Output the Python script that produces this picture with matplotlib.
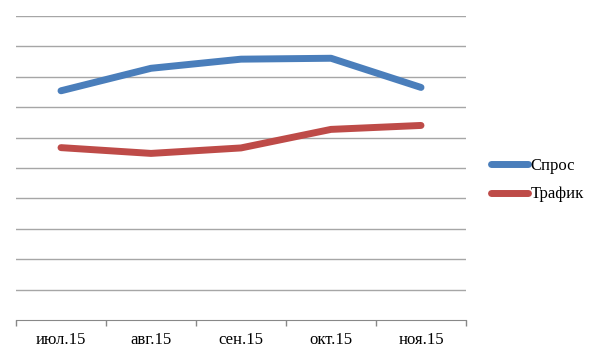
import matplotlib.pyplot as plt
import numpy as np

# Данные (в делениях сетки)
months = ['июл.15', 'авг.15', 'сен.15', 'окт.15', 'ноя.15']
spros = [7.54, 8.28, 8.58, 8.61, 7.65]
trafik = [5.67, 5.48, 5.66, 6.27, 6.40]

plt.rcParams['font.family'] = ['Liberation Serif', 'DejaVu Serif']

fig = plt.figure(figsize=(6, 3.6), dpi=100)
ax = fig.add_axes([16/600, 1 - 320/360, 450/600, 304/360])

x = np.arange(len(months))
ax.plot(x, spros, color='#4a7ebb', lw=5, solid_capstyle='round', solid_joinstyle='round', label='Спрос')
ax.plot(x, trafik, color='#be4b48', lw=5, solid_capstyle='round', solid_joinstyle='round', label='Трафик')

ax.set_xlim(-0.5, len(months) - 0.5)
ax.set_ylim(0, 10)
ax.set_yticks(np.arange(1, 11))
ax.set_yticklabels([])
ax.tick_params(axis='y', length=0)
ax.yaxis.grid(True, color='#a6a6a6', lw=1)
ax.set_axisbelow(True)

# подписи месяцев по центру, засечки на границах
ax.set_xticks(np.arange(-0.5, len(months)), minor=False)
ax.set_xticklabels([])
ax.tick_params(axis='x', direction='out', length=4, color='#888888', width=1)
ax.set_xticks(x, minor=True)
ax.set_xticklabels(months, minor=True, fontsize=12)
ax.tick_params(axis='x', which='minor', length=0, pad=9)

for s in ['top', 'right', 'left']:
    ax.spines[s].set_visible(False)
ax.spines['bottom'].set_color('#888888')

ax.legend(loc='center left', bbox_to_anchor=(1.056, 0.46), frameon=False,
          borderpad=0, borderaxespad=0, fontsize=12, handlelength=2.2,
          handletextpad=0.15, labelspacing=0.75)

fig.savefig('out.png', dpi=100)
